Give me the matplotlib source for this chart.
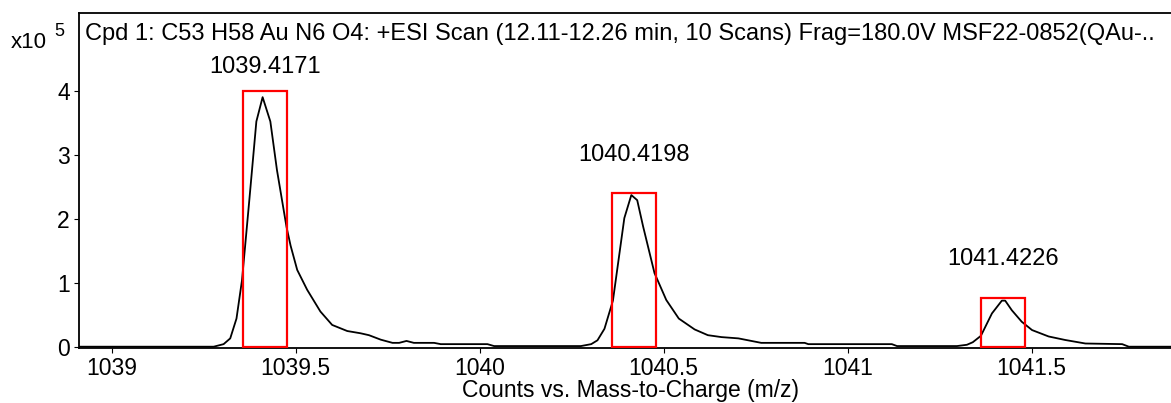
import numpy as np
import matplotlib.pyplot as plt

plt.rcParams['font.family'] = ['Liberation Sans', 'DejaVu Sans']

# profile (m/z, counts x10^5)
mz = [1038.90, 1039.254, 1039.277, 1039.304, 1039.322, 1039.339, 1039.354, 1039.374,
      1039.393, 1039.410, 1039.431, 1039.449, 1039.475, 1039.486, 1039.504, 1039.531,
      1039.567, 1039.599, 1039.640, 1039.676, 1039.699, 1039.731, 1039.763, 1039.781,
      1039.801, 1039.821, 1039.876, 1039.894, 1040.021, 1040.039, 1040.275, 1040.303,
      1040.320, 1040.339, 1040.362, 1040.393, 1040.412, 1040.428, 1040.444, 1040.475,
      1040.507, 1040.541, 1040.584, 1040.620, 1040.657, 1040.703, 1040.765, 1040.883,
      1040.893, 1041.120, 1041.134, 1041.297, 1041.324, 1041.340, 1041.362, 1041.392,
      1041.419, 1041.428, 1041.446, 1041.473, 1041.501, 1041.546, 1041.591, 1041.646,
      1041.746, 1041.764, 1041.890]
counts = [0.0, 0.0, 0.0, 0.04, 0.13, 0.44, 1.04, 2.30,
          3.52, 3.90, 3.52, 2.76, 1.87, 1.58, 1.20, 0.89,
          0.55, 0.34, 0.245, 0.21, 0.18, 0.11, 0.06, 0.06,
          0.09, 0.06, 0.06, 0.04, 0.04, 0.01, 0.01, 0.04,
          0.10, 0.28, 0.72, 2.01, 2.37, 2.29, 1.88, 1.15,
          0.73, 0.44, 0.27, 0.18, 0.15, 0.13, 0.06, 0.06,
          0.04, 0.04, 0.01, 0.01, 0.03, 0.07, 0.17, 0.52,
          0.72, 0.72, 0.57, 0.39, 0.26, 0.16, 0.105, 0.05,
          0.04, 0.0, 0.0]

peak_labels = ['1039.4171', '1040.4198', '1041.4226']
peak_mz = [1039.4171, 1040.4198, 1041.4226]
box_tops = [4.0, 2.4, 0.76]
label_y = [4.37, 3.0, 1.37]

title = 'Cpd 1: C53 H58 Au N6 O4: +ESI Scan (12.11-12.26 min, 10 Scans) Frag=180.0V MSF22-0852(QAu-..'

fig = plt.figure(figsize=(11.71, 4.03), dpi=100)
ax = fig.add_axes([79/1171, 54.7/403, 1 - 79/1171 + 0.002, 335.6/403])

ax.plot(mz, counts, color='black', lw=1.3)

for c, top in zip(peak_mz, box_tops):
    ax.add_patch(plt.Rectangle((c - 0.06, 0), 0.12, top, fill=False,
                               edgecolor='#ff0000', lw=1.6, zorder=3))

for lab, c, y in zip(peak_labels, peak_mz, label_y):
    ax.text(c, y, lab, ha='center', va='center', fontsize=17)

ax.set_xlim(1038.911, 1041.885)
ax.set_ylim(-0.025, 5.22)
ax.set_xticks(np.arange(1039, 1042, 0.5))
ax.set_xticklabels(['1039', '1039.5', '1040', '1040.5', '1041', '1041.5'])
ax.set_yticks([0, 1, 2, 3, 4])
ax.tick_params(direction='out', length=3.6, width=0.8, labelsize=16.5, pad=3)
for s in ['left', 'bottom', 'top']:
    ax.spines[s].set_linewidth(1.3)
ax.spines['right'].set_visible(False)

# axis label and headers placed in figure coords
fig.text(631/1171, 1 - 390/403, 'Counts vs. Mass-to-Charge (m/z)', fontsize=16.5,
         ha='center', va='center')
fig.text(85/1171, 1 - 34/403, title, fontsize=17, va='center', ha='left')
fig.text(11/1171, 1 - 43/403, 'x10', fontsize=16, va='center', ha='left')
fig.text(54/1171, 1 - 32/403, '5', fontsize=13, va='center', ha='left')

fig.savefig('out.png', dpi=100)
